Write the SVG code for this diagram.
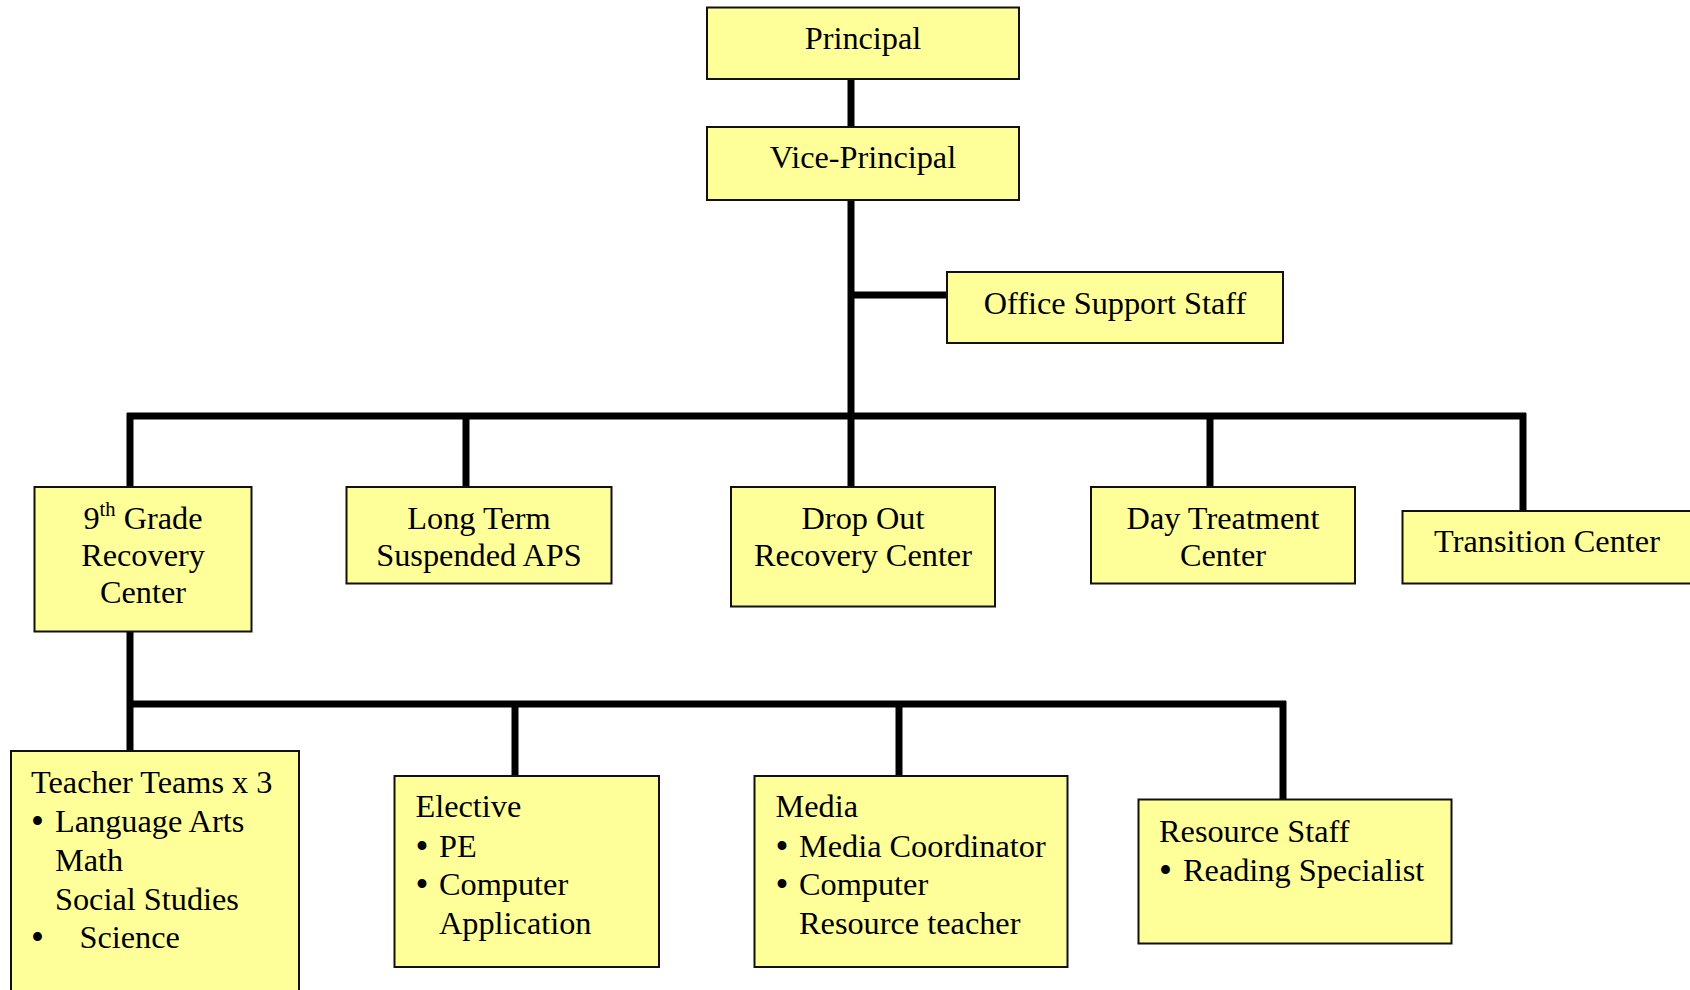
<svg xmlns="http://www.w3.org/2000/svg" width="1690" height="990" viewBox="0 0 1690 990">
<style>
.box{fill:#FFFF99;stroke:#111;stroke-width:2}
text{font-family:"Liberation Serif","Times New Roman",serif;font-size:32.3px;fill:#000}
.c{text-anchor:middle}
.b{font-size:37px}
.ln{stroke:#000;stroke-width:7;fill:none}
</style>
<rect width="1690" height="990" fill="#fff"/>
<g id="connectors">
<line class="ln" x1="851" y1="79" x2="851" y2="127"/>
<line class="ln" x1="851" y1="200" x2="851" y2="419"/>
<line class="ln" x1="851" y1="295" x2="947" y2="295"/>
<line class="ln" x1="127" y1="416" x2="1526" y2="416"/>
<line class="ln" x1="130" y1="413" x2="130" y2="487"/>
<line class="ln" x1="466" y1="416" x2="466" y2="487"/>
<line class="ln" x1="851" y1="416" x2="851" y2="487"/>
<line class="ln" x1="1210" y1="416" x2="1210" y2="487"/>
<line class="ln" x1="1523" y1="413" x2="1523" y2="511"/>
<line class="ln" x1="130" y1="631" x2="130" y2="751"/>
<line class="ln" x1="127" y1="704" x2="1286" y2="704"/>
<line class="ln" x1="515" y1="704" x2="515" y2="776"/>
<line class="ln" x1="899" y1="704" x2="899" y2="776"/>
<line class="ln" x1="1283" y1="701" x2="1283" y2="800"/>
</g>
<g id="principal">
<rect class="box" x="707" y="7.5" width="312" height="71.5"/>
<text class="c" x="863" y="49">Principal</text>
</g>
<g id="vice-principal">
<rect class="box" x="707" y="127" width="312" height="73"/>
<text class="c" x="863" y="168">Vice-Principal</text>
</g>
<g id="office-support">
<rect class="box" x="947" y="272" width="336" height="71"/>
<text class="c" x="1115" y="314">Office Support Staff</text>
</g>
<g id="ninth-grade">
<rect class="box" x="34.5" y="487" width="217" height="144.5"/>
<text class="c" x="143" y="529">9<tspan font-size="20.5" dy="-13">th</tspan><tspan dy="13"> Grade</tspan></text>
<text class="c" x="143" y="565.5">Recovery</text>
<text class="c" x="143" y="602.5">Center</text>
</g>
<g id="long-term">
<rect class="box" x="346.5" y="487" width="265" height="96.5"/>
<text class="c" x="479" y="529">Long Term</text>
<text class="c" x="479" y="565.5">Suspended APS</text>
</g>
<g id="drop-out">
<rect class="box" x="731" y="487" width="264" height="119.5"/>
<text class="c" x="863" y="529">Drop Out</text>
<text class="c" x="863" y="565.5">Recovery Center</text>
</g>
<g id="day-treatment">
<rect class="box" x="1091" y="487" width="264" height="96.5"/>
<text class="c" x="1223" y="529">Day Treatment</text>
<text class="c" x="1223" y="565.5">Center</text>
</g>
<g id="transition">
<rect class="box" x="1402.5" y="511" width="292" height="72.5"/>
<text class="c" x="1547" y="552">Transition Center</text>
</g>
<g id="teacher-teams">
<rect class="box" x="11" y="751" width="288" height="250"/>
<text x="31" y="793">Teacher Teams x 3</text>
<text class="b" x="31" y="833.5">•</text>
<text x="55" y="831.5">Language Arts</text>
<text x="55" y="870.5">Math</text>
<text x="55" y="909.5">Social Studies</text>
<text class="b" x="31" y="950">•</text>
<text x="79.5" y="948">Science</text>
</g>
<g id="elective">
<rect class="box" x="394.5" y="776" width="264.5" height="191"/>
<text x="415.5" y="817">Elective</text>
<text class="b" x="415.5" y="858.5">•</text>
<text x="439" y="856.5">PE</text>
<text class="b" x="415.5" y="897">•</text>
<text x="439" y="895">Computer</text>
<text x="439" y="933.5">Application</text>
</g>
<g id="media">
<rect class="box" x="754.5" y="776" width="313" height="191"/>
<text x="775.5" y="817">Media</text>
<text class="b" x="775.5" y="858.5">•</text>
<text x="799" y="856.5">Media Coordinator</text>
<text class="b" x="775.5" y="897">•</text>
<text x="799" y="895">Computer</text>
<text x="799" y="933.5">Resource teacher</text>
</g>
<g id="resource-staff">
<rect class="box" x="1138.5" y="799.5" width="313" height="144"/>
<text x="1159" y="841.5">Resource Staff</text>
<text class="b" x="1159" y="883">•</text>
<text x="1183" y="881">Reading Specialist</text>
</g>
</svg>
